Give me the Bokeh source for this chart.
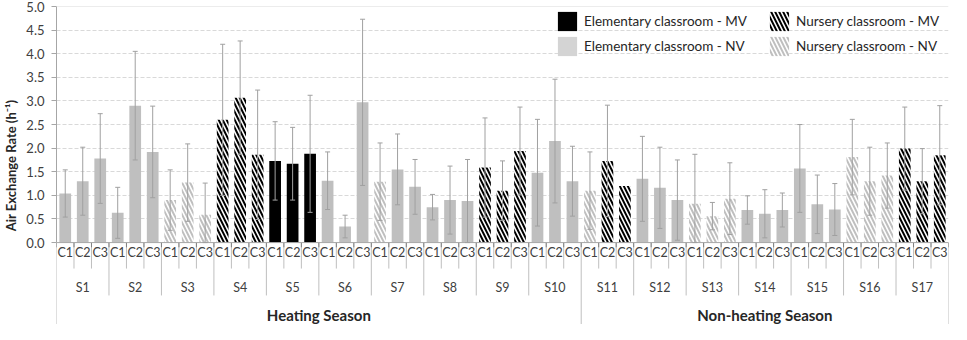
from bokeh.plotting import figure
from bokeh.models import (ColumnDataSource, Range1d, FixedTicker, NumeralTickFormatter,
                          Whisker, TeeHead, Span, Legend, LegendItem)
from bokeh.core.properties import value
from bokeh.embed import file_html
from bokeh.resources import INLINE

# ---------------- data ----------------
seasons = ["Heating Season", "Non-heating Season"]
schools = ["S1", "S2", "S3", "S4", "S5", "S6", "S7", "S8", "S9", "S10",
           "S11", "S12", "S13", "S14", "S15", "S16", "S17"]
school_season = ["Heating Season"] * 10 + ["Non-heating Season"] * 7
classrooms = ["C1", "C2", "C3"]

# air exchange rate (h-1), 3 classrooms per school
aer = [1.04, 1.30, 1.78,  0.63, 2.90, 1.92,  0.90, 1.27, 0.59,  2.60, 3.07, 1.86,
       1.73, 1.67, 1.88,  1.31, 0.34, 2.97,  1.29, 1.55, 1.18,  0.75, 0.90, 0.88,
       1.59, 1.10, 1.94,  1.48, 2.15, 1.30,  1.10, 1.73, 1.20,  1.35, 1.16, 0.90,
       0.82, 0.56, 0.93,  0.69, 0.61, 0.69,  1.57, 0.81, 0.70,  1.81, 1.30, 1.42,
       1.99, 1.30, 1.85]
aer_sd = [0.50, 0.72, 0.95,  0.54, 1.15, 0.97,  0.64, 0.82, 0.67,  1.60, 1.20, 1.37,
          0.83, 0.77, 1.24,  0.61, 0.24, 1.76,  0.82, 0.75, 0.58,  0.27, 0.72, 0.88,
          1.05, 0.63, 0.93,  1.13, 1.31, 0.74,  0.82, 1.18, 0.00,  0.90, 0.86, 0.85,
          1.05, 0.29, 0.76,  0.30, 0.51, 0.36,  0.93, 0.62, 0.55,  0.80, 0.72, 0.69,
          0.88, 0.69, 1.05]
# EMV elementary-MV, ENV elementary-NV, NMV nursery-MV, NNV nursery-NV
room_type = ["ENV", "ENV", "ENV",  "ENV", "ENV", "ENV",  "NNV", "NNV", "NNV",  "NMV", "NMV", "NMV",
             "EMV", "EMV", "EMV",  "ENV", "ENV", "ENV",  "NNV", "ENV", "ENV",  "ENV", "ENV", "ENV",
             "NMV", "NMV", "NMV",  "ENV", "ENV", "ENV",  "NNV", "NMV", "NMV",  "ENV", "ENV", "ENV",
             "NNV", "NNV", "NNV",  "ENV", "ENV", "ENV",  "ENV", "ENV", "ENV",  "NNV", "NNV", "NNV",
             "NMV", "NMV", "NMV"]
type_labels = {"EMV": "Elementary classroom - MV", "ENV": "Elementary classroom - NV",
               "NMV": "Nursery classroom - MV", "NNV": "Nursery classroom - NV"}
y_ticks = [0.0, 0.5, 1.0, 1.5, 2.0, 2.5, 3.0, 3.5, 4.0, 4.5, 5.0]

# ---------------- layout helpers ----------------
FONT = "Lato"
n_bars = len(aer)
bar_x = [i + 0.5 for i in range(n_bars)]
bar_cls = [classrooms[i % 3] for i in range(n_bars)]
Y_BOTTOM = -1.735
Y_C_SEP, Y_S_SEP = -0.55, -1.12

p = figure(width=951, height=324, x_range=Range1d(0, n_bars), y_range=Range1d(Y_BOTTOM, 5.0),
           output_backend="svg", toolbar_location=None, x_axis_location=None,
           min_border_left=50, min_border_right=3, min_border_top=6, min_border_bottom=0)
p.outline_line_color = None
p.background_fill_color = "white"
p.border_fill_color = "white"

# grid
p.xgrid.visible = False
p.ygrid.ticker = FixedTicker(ticks=y_ticks[1:-1])
p.ygrid.grid_line_color = "#d9d9d9"
p.ygrid.grid_line_dash = "4 2"
p.ygrid.grid_line_width = 1

# y axis
ax = p.yaxis[0]
ax.ticker = FixedTicker(ticks=y_ticks)
ax.formatter = NumeralTickFormatter(format="0.0")
ax.bounds = (0, 5)
ax.axis_line_color = "#a6a6a6"
ax.major_tick_line_color = "#a6a6a6"
ax.major_tick_out = 5
ax.major_tick_in = 0
ax.minor_tick_line_color = None
ax.major_label_text_font = FONT
ax.major_label_text_font_size = "13px"
ax.major_label_text_color = "#404040"
ax.major_label_standoff = 7
ax.axis_label = "Air Exchange Rate (h\u207b\u00b9)"
ax.axis_label_text_font = FONT
ax.axis_label_text_font_size = "13px"
ax.axis_label_text_font_style = "bold"
ax.axis_label_text_color = "#262626"
ax.axis_label_standoff = 4

# borders
p.add_layout(Span(location=5.0, dimension="width", line_color="#d9d9d9", line_width=1))
p.add_layout(Span(location=0.0, dimension="width", line_color="#a6a6a6", line_width=1))

# bars
styles = {
    "EMV": dict(fill_color="black", line_color=None),
    "ENV": dict(fill_color="#bfbfbf", line_color=None),
    "NMV": dict(fill_color="white", line_color=None, hatch_pattern="\\", hatch_color="black",
                hatch_scale=8, hatch_weight=2),
    "NNV": dict(fill_color="white", line_color=None, hatch_pattern="\\", hatch_color="#bfbfbf",
                hatch_scale=8, hatch_weight=2),
}
for t, st in styles.items():
    sel = [i for i in range(n_bars) if room_type[i] == t]
    src = ColumnDataSource(dict(x=[bar_x[i] for i in sel], top=[aer[i] for i in sel]))
    p.vbar(x="x", top="top", bottom=0, width=0.67, source=src, **st)

# error bars
eb = [i for i in range(n_bars) if aer_sd[i] > 0]
err_src = ColumnDataSource(dict(
    x=[bar_x[i] for i in eb],
    upper=[aer[i] + aer_sd[i] for i in eb],
    lower=[max(0.0, aer[i] - aer_sd[i]) for i in eb]))
EB_COL = "#a0a0a0"
wh = Whisker(source=err_src, base="x", upper="upper", lower="lower",
             line_color=EB_COL, line_width=1, level="annotation",
             upper_head=TeeHead(size=5, line_color=EB_COL, line_width=1),
             lower_head=TeeHead(size=5, line_color=EB_COL, line_width=1))
p.add_layout(wh)

# category axis (three levels) drawn as text + separators
sep_x, sep_y0, sep_y1 = [], [], []
season_bounds = [0]
for s in seasons:
    season_bounds.append(season_bounds[-1] + 3 * school_season.count(s))
for k in range(n_bars + 1):
    sep_x.append(k)
    sep_y0.append(0)
    if k in season_bounds:
        sep_y1.append(Y_BOTTOM)
    elif k % 3 == 0:
        sep_y1.append(Y_S_SEP)
    else:
        sep_y1.append(Y_C_SEP)
p.segment(x0=sep_x, y0=sep_y0, x1=sep_x, y1=sep_y1, line_color="#bfbfbf", line_width=1)
p.segment(x0=sep_x, y0=[0] * len(sep_x), x1=sep_x, y1=[-0.1] * len(sep_x),
          line_color="#808080", line_width=1)

p.text(x=bar_x, y=[-0.20] * n_bars, text=bar_cls, text_align="center", text_baseline="middle",
       text_font=value(FONT), text_font_size=value("12.5px"), text_color="#404040")
school_x = [3 * j + 1.5 for j in range(len(schools))]
p.text(x=school_x, y=[-0.96] * len(schools), text=schools, text_align="center",
       text_baseline="middle", text_font=value(FONT), text_font_size=value("12.5px"),
       text_color="#404040")
season_x = [(season_bounds[j] + season_bounds[j + 1]) / 2 for j in range(len(seasons))]
p.text(x=season_x, y=[-1.53] * len(seasons), text=seasons, text_align="center",
       text_baseline="middle", text_font=value(FONT), text_font_size=value("15px"),
       text_font_style="bold", text_color="#262626")

# legend (swatches; invisible placeholder bars carry the legend styles)
leg_styles = dict(styles)
leg_styles["ENV"] = dict(fill_color="#d4d4d4", line_color=None)
items = []
for t in ["EMV", "ENV", "NMV", "NNV"]:
    r = p.vbar(x="x", top="top", width=0.67,
               source=ColumnDataSource(dict(x=[0.5], top=[float("nan")])), **leg_styles[t])
    items.append(LegendItem(label=type_labels[t], renderers=[r], index=0))
legend = Legend(items=items, location=(499, 266), orientation="vertical", nrows=2,
                glyph_width=24, glyph_height=24, label_standoff=5, spacing=1, padding=2,
                margin=0, label_width=182, label_height=24, border_line_color=None,
                background_fill_alpha=0, label_text_font=FONT, label_text_font_size="13.5px",
                label_text_color="#262626")
p.add_layout(legend)

open("out.html", "w").write(file_html(p, INLINE))
